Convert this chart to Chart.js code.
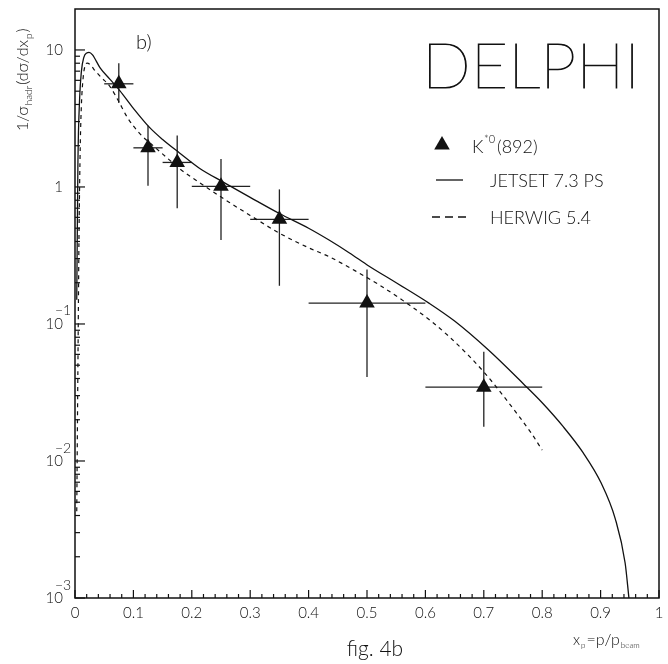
<!DOCTYPE html>
<html>
<head>
<meta charset="utf-8">
<script src="https://cdn.jsdelivr.net/npm/chart.js@4.4.1/dist/chart.umd.min.js"></script>
<style>
html,body{margin:0;padding:0;background:#fff;}
canvas{display:block;}
</style>
</head>
<body>
<canvas id="chart" width="668" height="664"></canvas>
<script>
/* K*0(892) data points with errors */
const K_X=[0.075,0.125,0.175,0.25,0.35,0.5,0.7];
const K_Y=[5.66,1.93,1.51,1.01,0.58,0.142,0.0346];
const K_XLO=[0.05,0.1,0.15,0.2,0.3,0.4,0.6];
const K_XHI=[0.1,0.15,0.2,0.3,0.4,0.6,0.8];
const K_YLO=[4.1,1.02,0.70,0.41,0.19,0.041,0.0178];
const K_YHI=[8.0,2.8,2.37,1.6,0.96,0.25,0.0626];

/* JETSET 7.3 PS */
const JETSET_X=[0.003,0.005,0.008,0.011,0.015,0.02,0.024,0.03,0.043,0.06,0.077,0.1,0.128,0.15,0.179,0.213,0.253,0.3,0.35,0.4,0.435,0.47,0.503,0.55,0.606,0.65,0.708,0.768,0.8,0.836,0.87,0.901,0.925,0.942,0.9485];
const JETSET_Y=[0.15,1.5,4.5,7.0,8.8,9.5,9.6,9.2,7.4,6.1,5.03,3.75,2.71,2.22,1.77,1.37,1.09,0.84,0.64,0.5,0.41,0.33,0.265,0.2,0.142,0.105,0.0645,0.0365,0.0266,0.0178,0.0115,0.0069,0.0038,0.0018,0.001];

/* HERWIG 5.4 */
const HERWIG_X=[0.003,0.005,0.007,0.009,0.011,0.014,0.017,0.021,0.026,0.035,0.045,0.06,0.075,0.09,0.111,0.135,0.157,0.179,0.21,0.2645,0.3,0.35,0.4,0.435,0.48,0.52,0.572,0.61,0.64,0.675,0.705,0.74,0.782,0.8];
const HERWIG_Y=[0.0043,0.05,0.5,2.0,4.0,6.3,7.6,8.0,7.8,7.0,6.3,5.4,4.2,3.2,2.45,1.98,1.64,1.36,1.1,0.77,0.62,0.46,0.36,0.31,0.244,0.194,0.138,0.1047,0.0813,0.0582,0.0422,0.0275,0.0158,0.012];

/* axes */
const X_MIN=0, X_MAX=1;
const Y_MIN=0.001, Y_MAX=19.9;
const X_TICKS=[0,0.1,0.2,0.3,0.4,0.5,0.6,0.7,0.8,0.9,1];
const X_TICK_LABELS=["0","0.1","0.2","0.3","0.4","0.5","0.6","0.7","0.8","0.9","1"];
const Y_TICKS=[0.001,0.01,0.1,1,10];
const Y_TICK_LABELS=["10","10","10","1","10"];
const Y_TICK_EXP=["-3","-2","-1","",""];

const FONT='Lato, "DejaVu Sans", sans-serif';
const INK="#111";

function toPoints(xs,ys){
  return xs.map((x,i)=>({x:x,y:ys[i]}));
}

/* DRAWING HELPERS */
function line(ctx,x1,y1,x2,y2){
  ctx.beginPath();
  ctx.moveTo(x1,y1);
  ctx.lineTo(x2,y2);
  ctx.stroke();
}

function triangle(ctx,x,y,r){
  ctx.beginPath();
  ctx.moveTo(x,y-r);
  ctx.lineTo(x+r*0.866,y+r*0.5);
  ctx.lineTo(x-r*0.866,y+r*0.5);
  ctx.closePath();
  ctx.fill();
}

function font(size,weight){
  return (weight||300)+" "+size+"px "+FONT;
}

/* error bars under the markers */
const errorBars={
  id:"errorBars",
  beforeDatasetsDraw(chart){
    const ctx=chart.ctx, xs=chart.scales.x, ys=chart.scales.y;
    ctx.save();
    ctx.strokeStyle="#222";
    ctx.lineWidth=1.3;
    K_X.forEach((x,i)=>{
      const px=xs.getPixelForValue(x), py=ys.getPixelForValue(K_Y[i]);
      line(ctx,xs.getPixelForValue(K_XLO[i]),py,xs.getPixelForValue(K_XHI[i]),py);
      line(ctx,px,ys.getPixelForValue(K_YHI[i]),px,ys.getPixelForValue(K_YLO[i]));
    });
    ctx.restore();
  }
};

/* frame, inward ticks, labels, legend, texts */
const frame={
  id:"frame",
  afterDraw(chart){
    const ctx=chart.ctx, a=chart.chartArea, xs=chart.scales.x, ys=chart.scales.y;
    ctx.save();
    ctx.strokeStyle=INK;
    ctx.fillStyle=INK;
    ctx.lineWidth=1.5;
    ctx.strokeRect(a.left,a.top,a.right-a.left,a.bottom-a.top);

    /* x ticks */
    ctx.lineWidth=1.2;
    for(let k=0;k<=50;k++){
      const v=k/50;
      const px=xs.getPixelForValue(v);
      const len=(k%5===0)?8:4;
      line(ctx,px,a.bottom,px,a.bottom-len);
    }
    ctx.font=font(15);
    ctx.textAlign="center";
    ctx.textBaseline="middle";
    X_TICKS.forEach((v,i)=>{
      ctx.fillText(X_TICK_LABELS[i],xs.getPixelForValue(v),613);
    });

    /* y ticks */
    for(let e=-3;e<=1;e++){
      for(let m=1;m<=9;m++){
        const v=m*Math.pow(10,e);
        if(v<Y_MIN||v>Y_MAX) continue;
        const py=ys.getPixelForValue(v);
        line(ctx,a.left,py,a.left+(m===1?10:5),py);
      }
    }
    Y_TICKS.forEach((v,i)=>{
      const py=ys.getPixelForValue(v);
      ctx.font=font(15);
      ctx.textAlign="right";
      ctx.textBaseline="middle";
      ctx.fillText(Y_TICK_LABELS[i],63,py);
      if(Y_TICK_EXP[i]){
        ctx.font=font(14);
        ctx.textAlign="left";
        ctx.fillText(Y_TICK_EXP[i].replace("-","\u2212"),55,py-13);
      }
    });

    /* y title */
    ctx.save();
    ctx.translate(28,131);
    ctx.rotate(-Math.PI/2);
    ctx.textAlign="left";
    ctx.textBaseline="alphabetic";
    let tx=0;
    [["1/\u03c3",16,0],["hadr",10,4],["(d\u03c3/dx",16,0],["p",10,4],[")",16,0]].forEach(p=>{
      ctx.font=font(p[1]);
      ctx.fillText(p[0],tx,p[2]);
      tx+=ctx.measureText(p[0]).width+1;
    });
    ctx.restore();

    /* x title */
    ctx.textAlign="left";
    ctx.textBaseline="alphabetic";
    tx=573;
    [["x",15,0],["p",8,3],["=p/p",16,0],["beam",8,3]].forEach(p=>{
      ctx.font=font(p[1]);
      ctx.fillText(p[0],tx,645+p[2]);
      tx+=ctx.measureText(p[0]).width+1;
    });

    /* caption */
    ctx.font=font(21);
    ctx.textAlign="center";
    ctx.fillText("fig. 4b",375,656);

    /* panel label */
    ctx.font=font(20);
    ctx.textAlign="left";
    ctx.fillText("b)",136,49);

    /* DELPHI */
    ctx.save();
    ctx.font=font(62,100);
    const w=ctx.measureText("DELPHI").width;
    ctx.translate(422,88);
    ctx.scale(218/w,1);
    ctx.lineWidth=0.8;
    ctx.fillText("DELPHI",0,0);
    ctx.strokeText("DELPHI",0,0);
    ctx.restore();

    /* legend */
    triangle(ctx,442,145,9);
    ctx.font=font(18);
    ctx.textBaseline="middle";
    ctx.fillText("K",472,147);
    ctx.font=font(11);
    ctx.fillText("*0",484,139);
    ctx.font=font(18);
    ctx.fillText("(892)",497,147);

    ctx.lineWidth=1.3;
    line(ctx,436,180,463,180);
    ctx.fillText("JETSET 7.3 PS",490,181);

    ctx.setLineDash([8,5]);
    line(ctx,432,217,470,217);
    ctx.setLineDash([]);
    ctx.fillText("HERWIG 5.4",490,218);

    ctx.restore();
  }
};

new Chart(document.getElementById("chart"),{
  type:"scatter",
  data:{
    datasets:[
      {
        label:"K*0(892)",
        data:toPoints(K_X,K_Y),
        showLine:false,
        pointStyle:"triangle",
        pointRadius:9,
        pointBackgroundColor:INK,
        pointBorderColor:INK,
        pointBorderWidth:0
      },
      {
        label:"JETSET 7.3 PS",
        data:toPoints(JETSET_X,JETSET_Y),
        showLine:true,
        pointRadius:0,
        borderColor:INK,
        borderWidth:1.3,
        cubicInterpolationMode:"monotone"
      },
      {
        label:"HERWIG 5.4",
        data:toPoints(HERWIG_X,HERWIG_Y),
        showLine:true,
        pointRadius:0,
        borderColor:INK,
        borderWidth:1.2,
        borderDash:[4,4],
        cubicInterpolationMode:"monotone"
      }
    ]
  },
  options:{
    responsive:false,
    animation:false,
    devicePixelRatio:1,
    layout:{padding:{left:75,right:7,top:8,bottom:66}},
    plugins:{legend:{display:false},tooltip:{enabled:false}},
    scales:{
      x:{type:"linear",min:X_MIN,max:X_MAX,display:false},
      y:{type:"logarithmic",min:Y_MIN,max:Y_MAX,display:false}
    }
  },
  plugins:[errorBars,frame]
});
</script>
</body>
</html>
